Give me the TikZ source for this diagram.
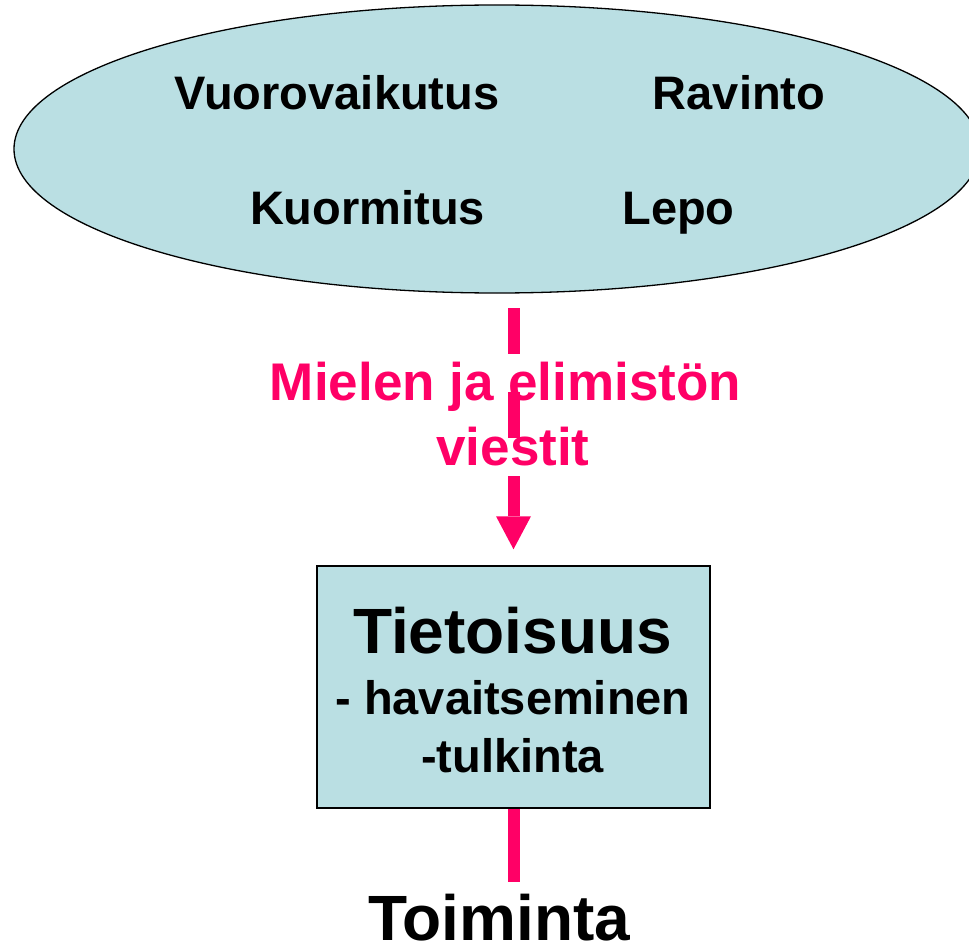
\documentclass[tikz,border=0pt]{standalone}
\usepackage{fontspec}
\setmainfont{Liberation Sans}
\usetikzlibrary{shapes.geometric,arrows.meta}
\definecolor{panel}{RGB}{186,223,227}
\definecolor{signal}{RGB}{255,0,102}
\begin{document}
\begin{tikzpicture}[x=1pt,y=-1pt,
  word/.style={inner sep=0pt, anchor=base, font=\bfseries\fontsize{47}{56}\selectfont},
  big/.style={inner sep=0pt, anchor=base, font=\bfseries\fontsize{64}{76}\selectfont},
  flow/.style={draw=signal, line width=12pt},
  msg/.style={inner sep=0pt, anchor=base, align=center, text=signal,
    font=\bfseries\fontsize{53}{65}\selectfont},
]
\useasboundingbox (0,0) rectangle (969,944);

% factors in the ellipse
\node[ellipse, draw=black, line width=1.3pt, fill=panel,
  minimum width=966pt, minimum height=288pt, inner sep=0pt] (cloud) at (497,149) {};
\node[word] (w1) at (337,110) {Vuorovaikutus};
\node[word] (w2) at (739,110) {Ravinto};
\node[word] (w3) at (367.5,225) {Kuormitus};
\node[word] (w4) at (678.5,225) {Lepo};

% awareness box
\node[draw=black, line width=1.5pt, fill=panel, inner sep=0pt,
  minimum width=393pt, minimum height=242pt] (box) at (513.5,687) {};
\node[big] (t1) at (512.5,653) {Tietoisuus};
\node[word] (t2) at (513,714) {- havaitseminen};
\node[word] (t3) at (512.5,772) {-tulkinta};

% signals from body and mind
\coordinate (src) at (513.5,308);
\draw[flow, dash pattern=on 46pt off 38pt,
  -{Triangle[length=33pt,width=35pt,line width=0pt]}]
  (src) -- ([yshift=16pt]box.north);
\node[msg] (m) at (513,465) {Mielen ja elimistön\hspace*{.28em}\\viestit};

% action
\node[big] (act) at (499,940) {Toiminta};
\draw[flow, shorten >=11pt] (box.south) -- (box.south |- act.north);
\end{tikzpicture}
\end{document}
